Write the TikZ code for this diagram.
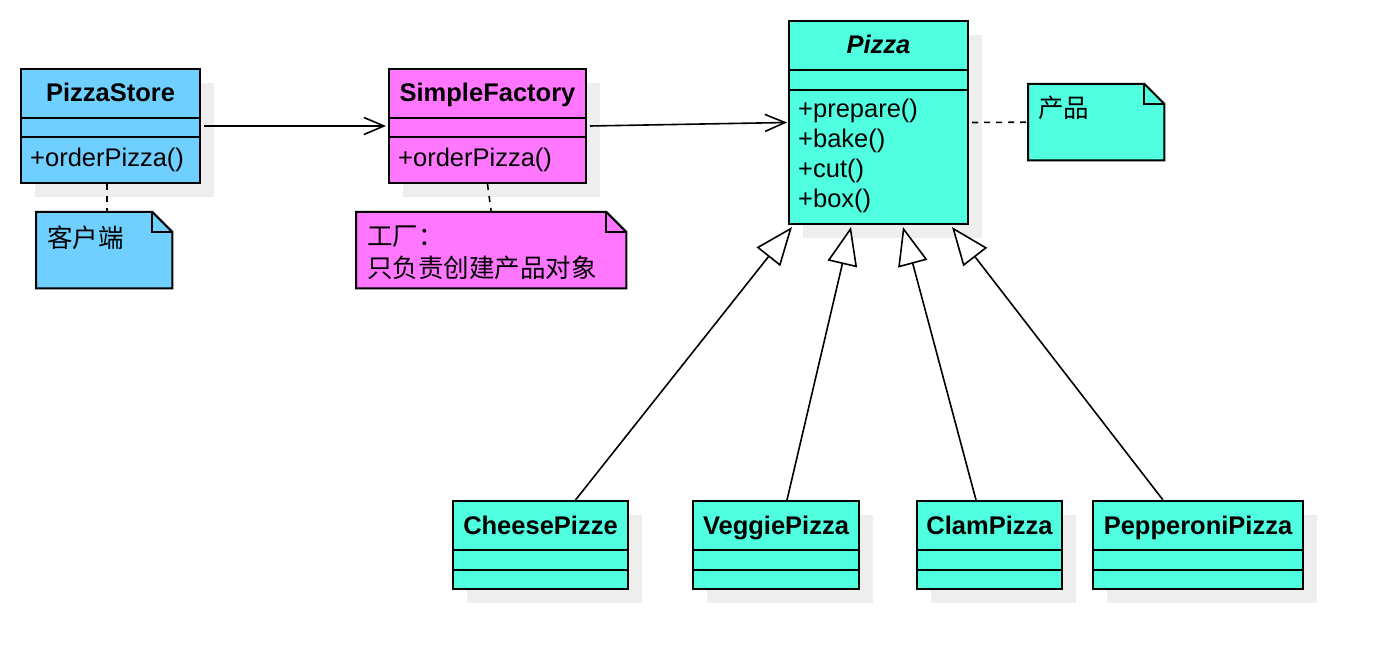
\documentclass[tikz,border=0pt]{standalone}
\usepackage{fontspec}
\setmainfont{Liberation Sans}
\newfontfamily\cjk{Noto Sans CJK SC}
\usetikzlibrary{arrows.meta,shadows}
\definecolor{cblue}{HTML}{6FCFFF}
\definecolor{cmag}{HTML}{FF77FF}
\definecolor{cturq}{HTML}{4FFFE0}
\definecolor{shade}{HTML}{EEEEEE}
\newcommand\foldnote[2]{%
  \filldraw[fill=#2, line width=2pt, line join=miter] (#1.south west) -- (#1.north west) -- ([xshift=-20pt]#1.north east) -- ([yshift=-20pt]#1.north east) -- (#1.south east) -- cycle;
  \draw[line width=2pt] ([xshift=-20pt]#1.north east) |- ([yshift=-20pt]#1.north east);}
\begin{document}
\begin{tikzpicture}[x=1pt,y=-1pt,
  cls/.style={draw=black, line width=2pt, rectangle, inner sep=0pt, anchor=north west,
    general shadow={fill=shade, shadow xshift=14pt, shadow yshift=-14pt}},
  notebox/.style={rectangle, inner sep=0pt, anchor=north west},
  ttl/.style={font=\fontsize{25.5}{30}\selectfont\bfseries, inner sep=0pt, anchor=base},
  mth/.style={font=\fontsize{25.5}{30}\selectfont, inner sep=0pt, anchor=west},
  ntxt/.style={font=\fontsize{25.5}{30}\selectfont\cjk, inner sep=0pt, anchor=west},
  div/.style={line width=2pt},
  assoc/.style={line width=1.6pt, -{Straight Barb[length=20pt,width=17pt]}},
  gen/.style={line width=1.6pt, -{Triangle[open,fill=white,length=38pt,width=30pt]}},
  link/.style={line width=1.6pt, dash pattern=on 6pt off 6pt},
]
\fill[white] (0,0) rectangle (1382,668);
\useasboundingbox (0,0) rectangle (1382,668);

% PizzaStore
\node[cls, fill=cblue, minimum width=179pt, minimum height=114pt] (store) at (20,68) {};
\draw[div] ([yshift=-50pt]store.north west) -- ([yshift=-50pt]store.north east);
\draw[div] ([yshift=-69pt]store.north west) -- ([yshift=-69pt]store.north east);
\node[ttl] (storeT) at ([yshift=-34pt]store.north) {PizzaStore};
\node[mth] (storeM) at (30,160) {+orderPizza()};

% SimpleFactory
\node[cls, fill=cmag, minimum width=197pt, minimum height=114pt] (factory) at (388,68) {};
\draw[div] ([yshift=-50pt]factory.north west) -- ([yshift=-50pt]factory.north east);
\draw[div] ([yshift=-69pt]factory.north west) -- ([yshift=-69pt]factory.north east);
\node[ttl] (factoryT) at ([yshift=-34pt]factory.north) {SimpleFactory};
\node[mth] (factoryM) at (398,160) {+orderPizza()};

% Pizza
\node[cls, fill=cturq, minimum width=179pt, minimum height=203pt] (pizza) at (788,20) {};
\draw[div] ([yshift=-50pt]pizza.north west) -- ([yshift=-50pt]pizza.north east);
\draw[div] ([yshift=-70pt]pizza.north west) -- ([yshift=-70pt]pizza.north east);
\node[ttl, font=\fontsize{25.5}{30}\selectfont\bfseries\itshape] (pizzaT) at ([yshift=-34pt]pizza.north) {Pizza};
\node[mth] (m1) at (798,111) {+prepare()};
\node[mth] (m2) at (798,141) {+bake()};
\node[mth] (m3) at (798,171) {+cut()};
\node[mth] (m4) at (798,201) {+box()};

% subclasses
\node[cls, fill=cturq, minimum width=175pt, minimum height=88pt] (cheese) at (452,500) {};
\node[cls, fill=cturq, minimum width=166pt, minimum height=88pt] (veggie) at (692,500) {};
\node[cls, fill=cturq, minimum width=145pt, minimum height=88pt] (clam) at (916,500) {};
\node[cls, fill=cturq, minimum width=210pt, minimum height=88pt] (pepperoni) at (1092,500) {};
\foreach \n in {cheese,veggie,clam,pepperoni}{
  \draw[div] ([yshift=-50pt]\n.north west) -- ([yshift=-50pt]\n.north east);
  \draw[div] ([yshift=-70pt]\n.north west) -- ([yshift=-70pt]\n.north east);
}
\node[ttl] (cheeseT) at ([yshift=-34pt]cheese.north) {CheesePizze};
\node[ttl] (veggieT) at ([yshift=-34pt]veggie.north) {VeggiePizza};
\node[ttl] (clamT) at ([yshift=-34pt]clam.north) {ClamPizza};
\node[ttl] (pepperoniT) at ([yshift=-34pt]pepperoni.north) {PepperoniPizza};

% notes
\node[notebox, minimum width=136pt, minimum height=76pt] (n1) at (36,212) {};
\foldnote{n1}{cblue}
\node[ntxt] (n1t) at (47,238) {客户端};
\node[notebox, minimum width=270pt, minimum height=76pt] (n2) at (356,212) {};
\foldnote{n2}{cmag}
\node[ntxt] (n2a) at (367,237) {工厂：};
\node[ntxt] (n2b) at (367,268) {只负责创建产品对象};
\node[notebox, minimum width=136pt, minimum height=76pt] (n3) at (1028,84) {};
\foldnote{n3}{cturq}
\node[ntxt] (n3t) at (1038,108) {产品};

% connectors
\draw[assoc] ([xshift=3pt]store.east) -- ([xshift=-2pt]factory.west);
\draw[assoc] ([xshift=3pt]factory.east) -- ([xshift=-1pt]pizza.west);
\draw[link] ([xshift=-3.5pt]store.south) -- ([xshift=-3.5pt]store.south |- n1.north);
\draw[link] (factory.south) -- (n2.north);
\draw[link] ([xshift=3pt]pizza.east) -- (n3.west);
\draw[gen] ([xshift=35pt]cheese.north) -- ([xshift=4pt,yshift=-2pt]pizza.south west);
\draw[gen] ([xshift=11pt]veggie.north) -- ([xshift=63pt,yshift=-2pt]pizza.south west);
\draw[gen] ([xshift=-13.5pt]clam.north) -- ([xshift=115pt,yshift=-2pt]pizza.south west);
\draw[gen] ([xshift=-35pt]pepperoni.north) -- ([xshift=164pt,yshift=-2pt]pizza.south west);
\end{tikzpicture}
\end{document}
